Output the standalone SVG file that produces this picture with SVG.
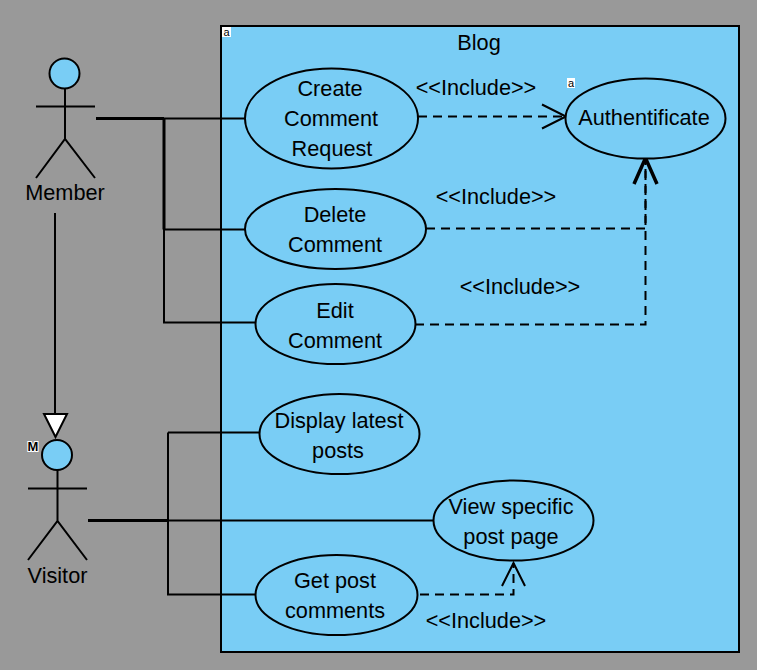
<svg xmlns="http://www.w3.org/2000/svg" width="757" height="670" viewBox="0 0 757 670">
<style>
text{font-family:"Liberation Sans",Arial,sans-serif;font-size:21.7px;fill:#000;text-anchor:middle}
.s{fill:none;stroke:#000;stroke-width:2}
.u{fill:#79CDF5;stroke:#000;stroke-width:2}
.d{fill:none;stroke:#000;stroke-width:2;stroke-dasharray:9 6}
text.t{font-size:11px}
</style>
<rect width="757" height="670" fill="#999"/>
<g id="system"><rect x="221" y="26" width="518" height="626" class="u"/><rect x="222" y="27" width="9" height="10" fill="#fff"/><text class="t" x="226.500" y="36">a</text><text x="479" y="50">Blog</text></g>
<g id="connectors">
<path class="s" d="M96 118.500H246M164 118.500V322.500H256M164 229.500H246"/>
<path d="M96 118.500H164M164 118.500V229.500" fill="none" stroke="#000" stroke-width="3"/>
<path class="s" d="M88 520.500H434M168 432.500H260M168 432.500V594.500H256"/>
<path d="M88 520.500H168" fill="none" stroke="#000" stroke-width="3"/>
<path class="s" d="M55 213V414"/>
<path d="M44 414H67L55.500 437Z" fill="#fff" stroke="#000" stroke-width="2"/>
<path class="d" d="M418 116.500H566"/>
<path class="s" d="M542 104.500L566 116.500L542 128.500"/>
<path class="d" d="M426 228.500H645.500V158"/>
<path class="d" d="M415 324.500H645.500V158"/>
<path d="M634 184L645.500 158L657 184" fill="none" stroke="#000" stroke-width="3.500"/>
<path class="d" d="M420 594.500H513.500V563"/>
<path class="s" d="M502 586L513.500 563L525 586"/>
</g>
<g id="member"><circle cx="64.500" cy="73.500" r="15" class="u"/><path class="s" d="M65 89V139M36 106.500H95M36 178L65 139L95 178"/><text x="65" y="200">Member</text></g>
<g id="visitor"><circle cx="57" cy="455" r="15" class="u"/><path class="s" d="M57.500 470V521M28 488.500H87M28 560L57.500 521L87 560"/><text class="t" x="33" y="451" style="font-size:13px;font-weight:bold;stroke:#fff;stroke-width:2;paint-order:stroke">M</text><text x="57.500" y="583">Visitor</text></g>
<g id="uc1"><ellipse cx="331.500" cy="118.500" rx="86.500" ry="50" class="u"/><text x="330" y="96">Create</text><text x="331" y="126">Comment</text><text x="332" y="156">Request</text></g>
<g id="uc2"><ellipse cx="335.500" cy="229" rx="90.500" ry="40" class="u"/><text x="335" y="222">Delete</text><text x="335" y="252">Comment</text></g>
<g id="uc3"><ellipse cx="335.500" cy="324" rx="80" ry="40" class="u"/><text x="335" y="318">Edit</text><text x="335" y="348">Comment</text></g>
<g id="uc4"><ellipse cx="339.500" cy="434" rx="80" ry="40" class="u"/><text x="339" y="428">Display latest</text><text x="338" y="458">posts</text></g>
<g id="uc5"><ellipse cx="513.500" cy="520.500" rx="80" ry="40" class="u"/><text x="511" y="514">View specific</text><text x="511" y="544">post page</text></g>
<g id="uc6"><ellipse cx="336.500" cy="595" rx="81" ry="40" class="u"/><text x="335" y="588">Get post</text><text x="335" y="618">comments</text></g>
<g id="auth"><ellipse cx="645.500" cy="118.500" rx="80" ry="40" class="u"/><text x="644" y="125">Authentificate</text><rect x="567" y="78" width="8" height="10" fill="#fff"/><text class="t" x="571" y="87">a</text></g>
<g id="labels"><text x="476" y="95">&lt;&lt;Include&gt;&gt;</text><text x="496" y="204">&lt;&lt;Include&gt;&gt;</text><text x="520" y="294">&lt;&lt;Include&gt;&gt;</text><text x="486" y="628">&lt;&lt;Include&gt;&gt;</text></g>
</svg>
